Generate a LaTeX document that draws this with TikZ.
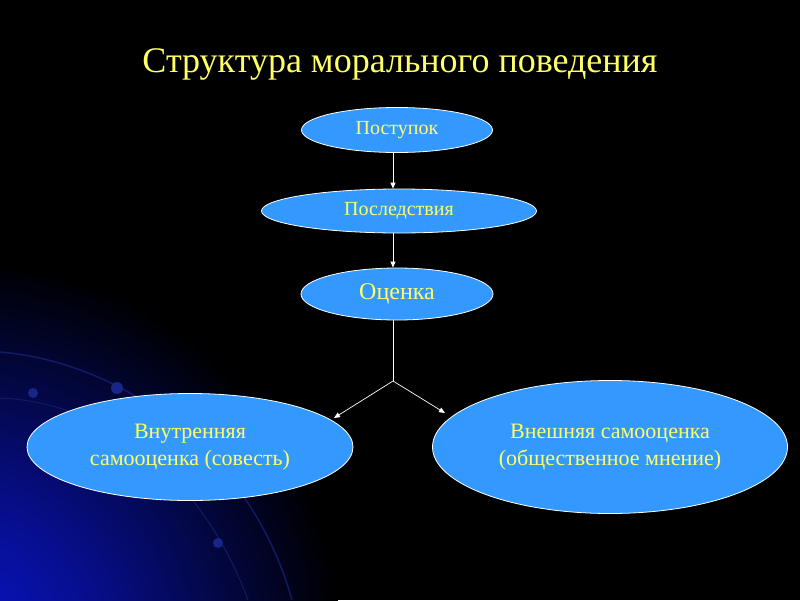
\documentclass[tikz,border=0pt]{standalone}
\usepackage{fontspec}
\setmainfont{Liberation Serif}
\usetikzlibrary{shapes.geometric,arrows.meta}
\definecolor{ellfill}{RGB}{51,153,255}
\definecolor{txtyel}{RGB}{255,255,102}
\definecolor{arcblue}{RGB}{18,26,100}
\definecolor{dotblue}{RGB}{25,38,135}
\definecolor{cornerblue}{RGB}{10,20,200}
\pgfdeclareradialshading{bluecorner}{\pgfpoint{0bp}{0bp}}{color(0bp)=(cornerblue); color(9bp)=(cornerblue!70!black); color(25bp)=(black); color(50bp)=(black)}
\begin{document}
\begin{tikzpicture}[x=1pt,y=-1pt,
 ell/.style={ellipse, draw=white, line width=0.8pt, fill=ellfill, inner sep=0pt, text=txtyel, align=center},
 conn/.style={draw=white, line width=0.7pt},
 tip/.style={-{Triangle[length=6pt,width=5pt]}}]
\fill[black] (0,0) rectangle (800,600);
\useasboundingbox (0,0) rectangle (800,600);
\begin{scope}
\clip (0,0) rectangle (800,600);
\shade[shading=bluecorner] (-40,640) circle (380);
\draw[arcblue, line width=1.5pt] (0,352) .. controls (120,362) and (250,450) .. (292,600);
\draw[arcblue, line width=1pt] (0,398) .. controls (100,402) and (200,470) .. (248,600);
\fill[dotblue] (33,393) circle (5);
\fill[dotblue] (117,388) circle (6);
\fill[dotblue] (218,543) circle (5);
\end{scope}

\node[text=txtyel, font=\fontsize{36}{42}\selectfont] (title) at (400,64) {Структура морального поведения};

\node[ell, minimum width=191, minimum height=45, font=\fontsize{20}{24}\selectfont] (a) at (397,130) {Поступок};
\node[ell, minimum width=275, minimum height=44, font=\fontsize{20}{24}\selectfont] (b) at (399,211) {Последствия};
\node[ell, minimum width=192, minimum height=52, font=\fontsize{24}{28}\selectfont] (c) at (397,294) {Оценка};
\node[ell, minimum width=326, minimum height=107, font=\fontsize{22}{27}\selectfont] (d) at (190,447) {Внутренняя\\самооценка (совесть)};
\node[ell, minimum width=355, minimum height=133, font=\fontsize{22}{27}\selectfont] (e) at (610,447) {Внешняя самооценка\\ (общественное мнение)};

\coordinate (j) at (393,381);
\draw[conn, tip] (a.south -| j) -- (b.north -| j);
\draw[conn, tip] (b.south -| j) -- (c.north -| j);
\draw[conn] (c.south -| j) -- (j);
\draw[conn, tip] (j) -- (334,418);
\draw[conn, tip] (j) -- (445,413);
\end{tikzpicture}
\end{document}
